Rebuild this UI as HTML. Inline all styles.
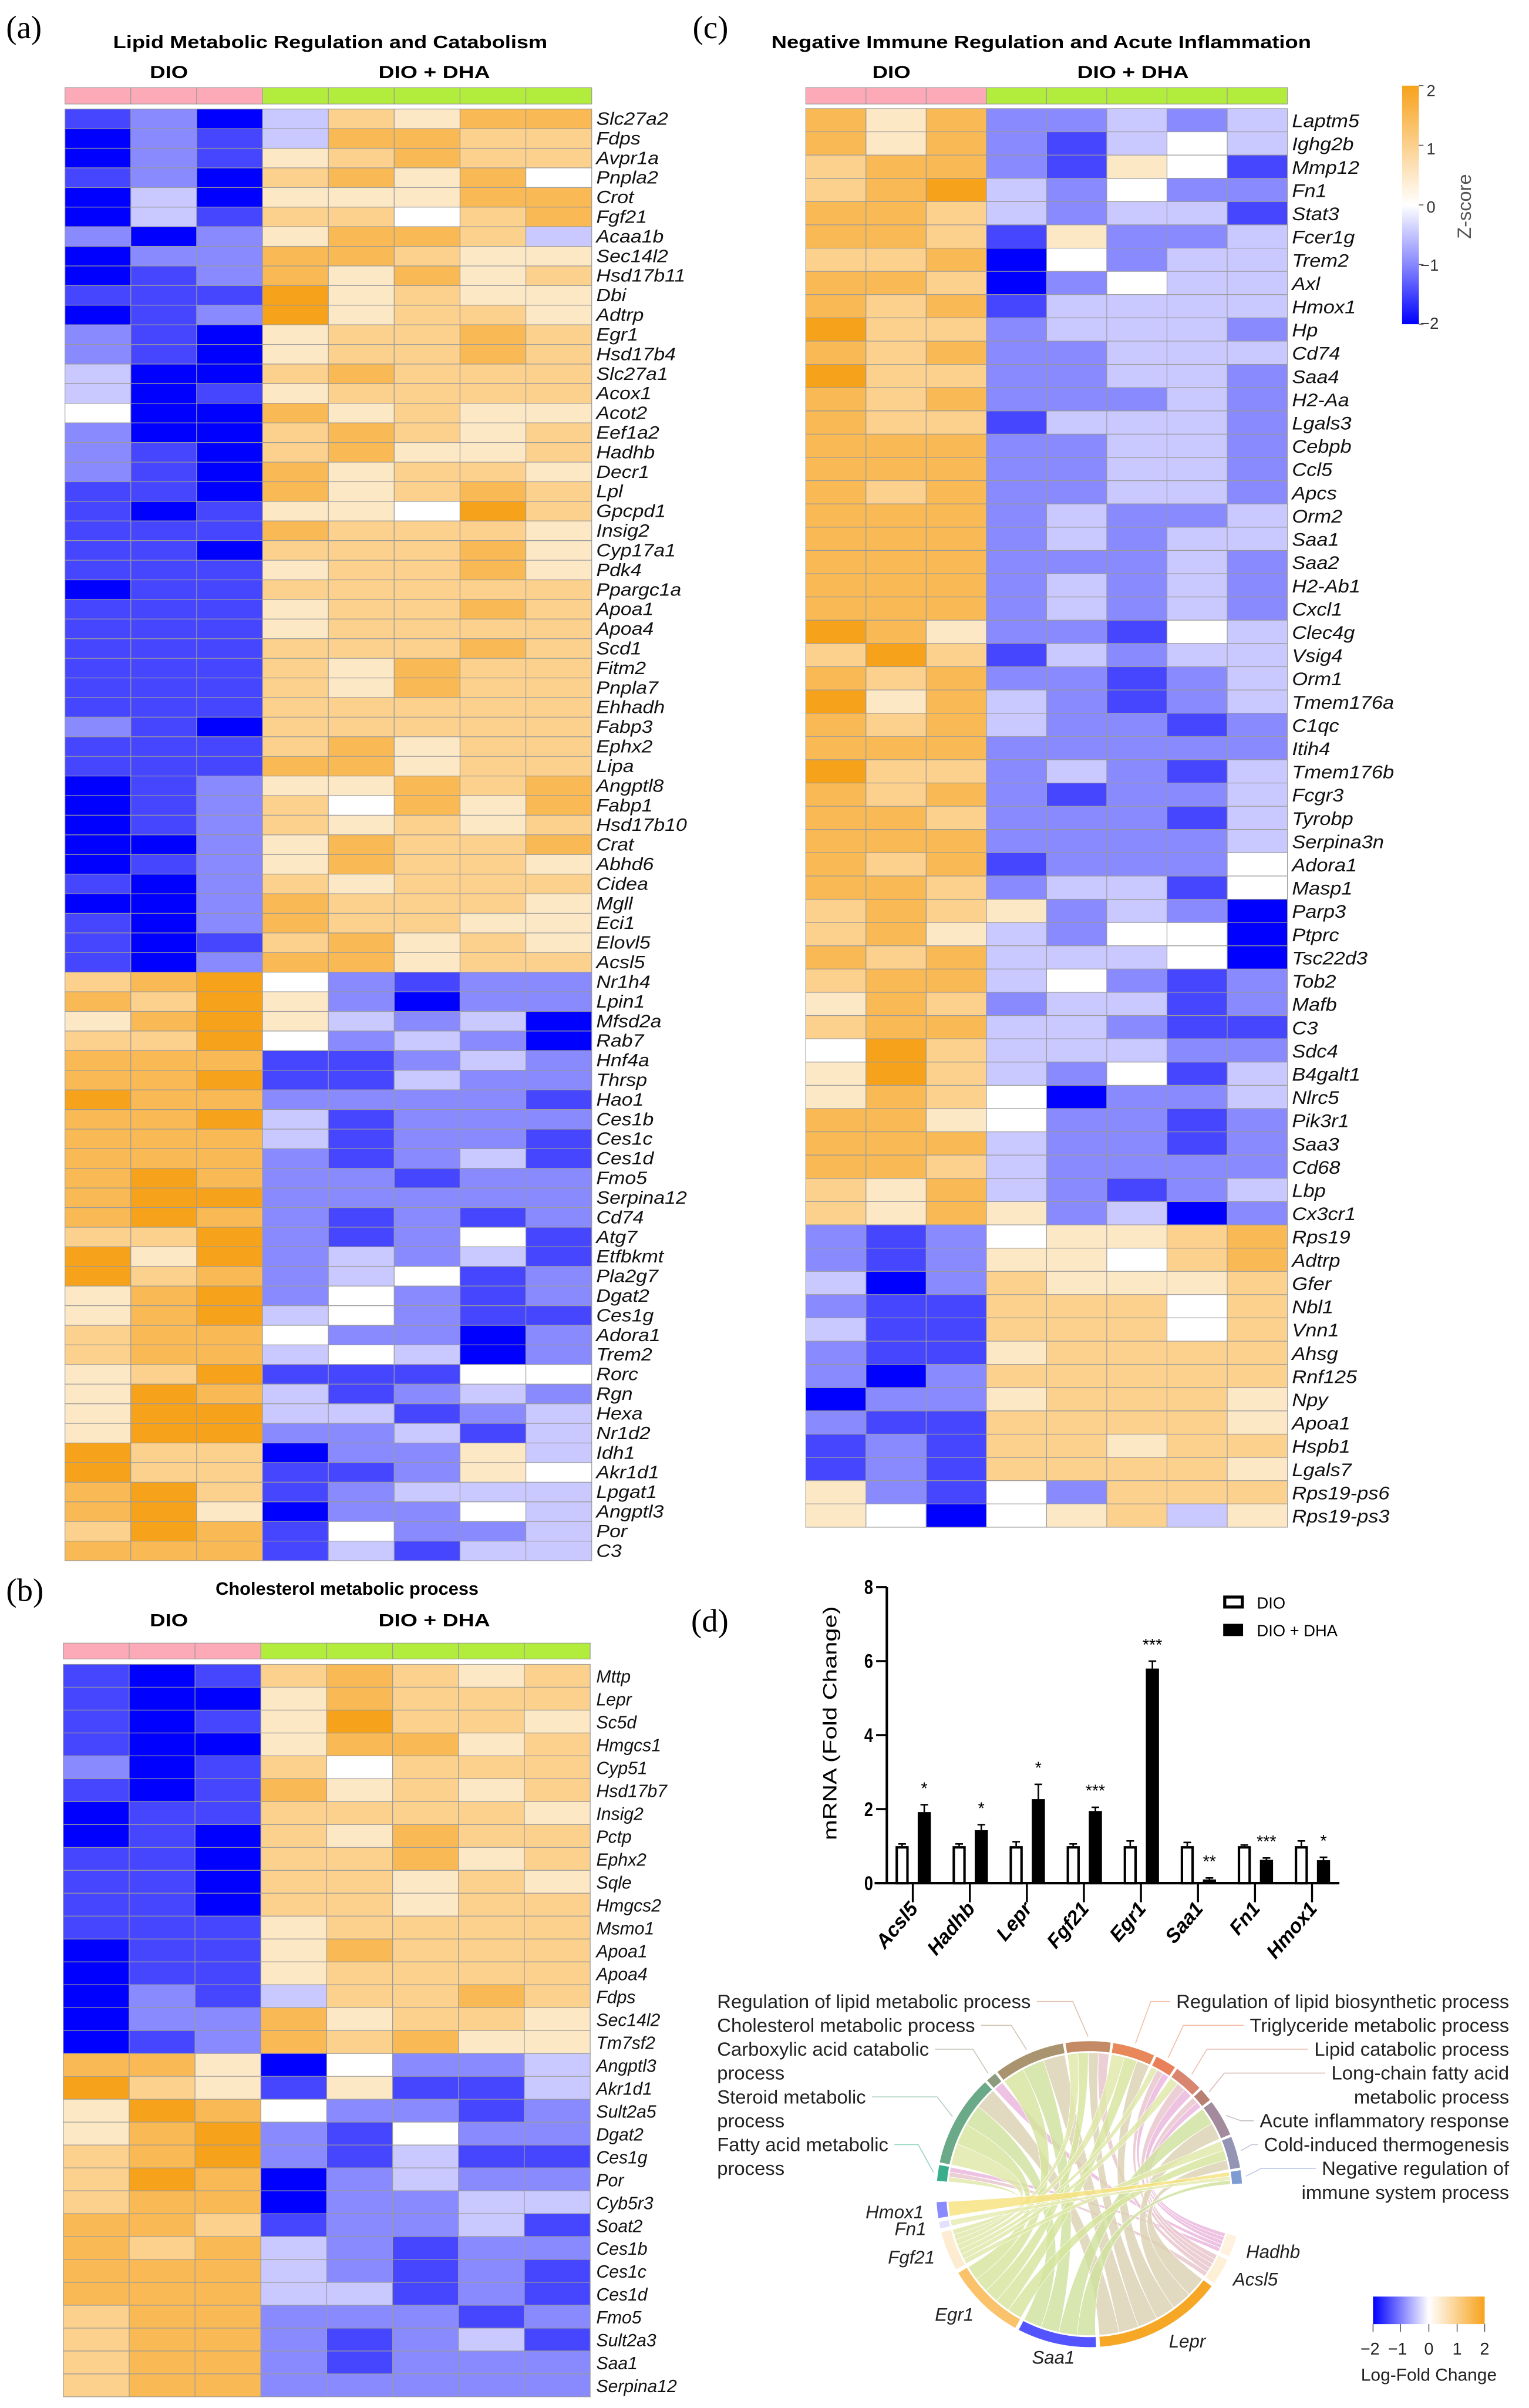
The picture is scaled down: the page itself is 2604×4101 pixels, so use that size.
<!DOCTYPE html>
<html><head><meta charset="utf-8">
<style>
html,body{margin:0;padding:0;background:#fff;}
svg{display:block;}
text{font-family:"Liberation Sans",Arial,sans-serif;}
</style></head>
<body>
<svg id="fig" xmlns="http://www.w3.org/2000/svg" width="2604" height="4101" viewBox="0 0 1000 1574.85">
<defs>
<linearGradient id="zgrad" x1="0" y1="0" x2="0" y2="1">
<stop offset="0" stop-color="#f7a21b"/><stop offset="0.25" stop-color="#fbd08d"/><stop offset="0.5" stop-color="#ffffff"/><stop offset="0.75" stop-color="#8888ff"/><stop offset="1" stop-color="#0000ff"/>
</linearGradient>
<linearGradient id="lfgrad" x1="0" y1="0" x2="1" y2="0">
<stop offset="0" stop-color="#0000ff"/><stop offset="0.5" stop-color="#ffffff"/><stop offset="1" stop-color="#f7a21b"/>
</linearGradient>
</defs>
<rect x="0" y="0" width="1000" height="1574.85" fill="#fff"/>

<text x="4" y="25" style="font-family:'Liberation Serif',serif" font-size="21">(a)</text>
<text x="453" y="25" style="font-family:'Liberation Serif',serif" font-size="21">(c)</text>
<text x="4" y="1047" style="font-family:'Liberation Serif',serif" font-size="21">(b)</text>
<text x="452" y="1067" style="font-family:'Liberation Serif',serif" font-size="21">(d)</text>

<text x="216" y="31.4" text-anchor="middle" font-weight="bold" font-size="11.8" textLength="284" lengthAdjust="spacingAndGlyphs">Lipid Metabolic Regulation and Catabolism</text>
<text x="681" y="31.4" text-anchor="middle" font-weight="bold" font-size="11.8" textLength="353" lengthAdjust="spacingAndGlyphs">Negative Immune Regulation and Acute Inflammation</text>
<text x="227" y="1043" text-anchor="middle" font-weight="bold" font-size="11.8" textLength="172" lengthAdjust="spacingAndGlyphs">Cholesterol metabolic process</text>

<text x="110.5" y="51" text-anchor="middle" font-weight="bold" font-size="11.5" textLength="25" lengthAdjust="spacingAndGlyphs">DIO</text>
<text x="284" y="51" text-anchor="middle" font-weight="bold" font-size="11.5" textLength="73" lengthAdjust="spacingAndGlyphs">DIO + DHA</text>
<text x="583" y="51" text-anchor="middle" font-weight="bold" font-size="11.5" textLength="25" lengthAdjust="spacingAndGlyphs">DIO</text>
<text x="741" y="51" text-anchor="middle" font-weight="bold" font-size="11.5" textLength="73" lengthAdjust="spacingAndGlyphs">DIO + DHA</text>
<text x="110.5" y="1063.5" text-anchor="middle" font-weight="bold" font-size="11.5" textLength="25" lengthAdjust="spacingAndGlyphs">DIO</text>
<text x="284" y="1063.5" text-anchor="middle" font-weight="bold" font-size="11.5" textLength="73" lengthAdjust="spacingAndGlyphs">DIO + DHA</text>

<g>
<rect x="917" y="56" width="11" height="156" fill="url(#zgrad)"/>
<g stroke="#555" stroke-width="0.6">
<line x1="928" y1="56" x2="931" y2="56"/><line x1="928" y1="95" x2="931" y2="95"/><line x1="928" y1="134" x2="931" y2="134"/><line x1="928" y1="173" x2="931" y2="173"/><line x1="928" y1="212" x2="931" y2="212"/>
</g>
<g font-size="10.5" fill="#333">
<text x="933" y="63">2</text><text x="933" y="101">1</text><text x="933" y="139">0</text><text x="929" y="177">−1</text><text x="929" y="215">−2</text>
</g>
<text transform="translate(962,135) rotate(-90)" text-anchor="middle" font-size="12.5" fill="#555">Z-score</text>
</g>

<g>
<rect x="801" y="1044.5" width="11.5" height="6.5" fill="#fff" stroke="#000" stroke-width="2"/>
<text x="822" y="1052" font-size="10.5">DIO</text>
<rect x="800" y="1062" width="13" height="8" fill="#000"/>
<text x="822" y="1070" font-size="10.5">DIO + DHA</text>
</g>

<g>
<rect x="898" y="1502" width="73" height="18" fill="url(#lfgrad)"/>
<g stroke="#555" stroke-width="0.6">
<line x1="898" y1="1520" x2="898" y2="1525"/><line x1="916" y1="1520" x2="916" y2="1525"/><line x1="934.5" y1="1520" x2="934.5" y2="1525"/><line x1="953" y1="1520" x2="953" y2="1525"/><line x1="971" y1="1520" x2="971" y2="1525"/>
</g>
<g font-size="11" fill="#222" text-anchor="middle">
<text x="896" y="1540">−2</text><text x="914" y="1540">−1</text><text x="934.5" y="1540">0</text><text x="953" y="1540">1</text><text x="971" y="1540">2</text>
</g>
<text x="934.5" y="1557" text-anchor="middle" font-size="11.5" fill="#222">Log-Fold Change</text>
</g>
</svg>

<script>
const svg = document.getElementById('fig');
const NS = 'http://www.w3.org/2000/svg';
function mk(tag, attrs, parent) {
  const e = document.createElementNS(NS, tag);
  for (const k in attrs) e.setAttribute(k, attrs[k]);
  (parent || svg).appendChild(e);
  return e;
}

const genesA = ["Slc27a2","Fdps","Avpr1a","Pnpla2","Crot","Fgf21","Acaa1b","Sec14l2","Hsd17b11","Dbi","Adtrp","Egr1","Hsd17b4","Slc27a1","Acox1","Acot2","Eef1a2","Hadhb","Decr1","Lpl","Gpcpd1","Insig2","Cyp17a1","Pdk4","Ppargc1a","Apoa1","Apoa4","Scd1","Fitm2","Pnpla7","Ehhadh","Fabp3","Ephx2","Lipa","Angptl8","Fabp1","Hsd17b10","Crat","Abhd6","Cidea","Mgll","Eci1","Elovl5","Acsl5","Nr1h4","Lpin1","Mfsd2a","Rab7","Hnf4a","Thrsp","Hao1","Ces1b","Ces1c","Ces1d","Fmo5","Serpina12","Cd74","Atg7","Etfbkmt","Pla2g7","Dgat2","Ces1g","Adora1","Trem2","Rorc","Rgn","Hexa","Nr1d2","Idh1","Akr1d1","Lpgat1","Angptl3","Por","C3"];
const zA = [
[-1.5,-1,-2,-0.5,1,0.5,1.5,1.5],[-2,-1,-1.5,-0.5,1.5,1.5,1,1],[-2,-1,-1.5,0.5,1,1.5,1,1],[-1.5,-1,-2,1,1.5,0.5,1.5,0],
[-2,-0.5,-2,0.5,0.5,0.5,1.5,1.5],[-2,-0.5,-1.5,1,1,0,1,1.5],[-1,-2,-1,0.5,1.5,1.5,1,-0.5],[-2,-1,-1,1.5,1.5,1,0.5,0.5],
[-2,-1.5,-1,1.5,0.5,1.5,0.5,1],[-1.5,-1.5,-1.5,2,0.5,1,0.5,0.5],[-2,-1.5,-1,2,0.5,1,1,0.5],[-1,-1.5,-2,0.5,1,1,1.5,1],
[-1,-1.5,-2,0.5,1,1,1.5,1],[-0.5,-2,-2,1,1.5,1,1,1],[-0.5,-2,-1.5,0.5,1,1,1,1],[0,-2,-2,1.5,0.5,1,0.5,0.5],
[-1,-2,-2,1,1.5,1,0.5,1],[-1,-1.5,-2,1,1.5,0.5,0.5,1],[-1,-1.5,-2,1.5,0.5,1,1,0.5],[-1.5,-1.5,-2,1.5,0.5,1,1.5,1],
[-1.5,-2,-1.5,0.5,0.5,0,2,1],[-1.5,-1.5,-1.5,1.5,1,1,1,0.5],[-1.5,-1.5,-2,1,1,1,1.5,0.5],[-1.5,-1.5,-1.5,0.5,1,1,1.5,0.5],
[-2,-1.5,-1.5,1,1,1,1,1],[-1.5,-1.5,-1.5,0.5,1,1,1.5,1],[-1.5,-1.5,-1.5,0.5,1,1,1,1],[-1.5,-1.5,-1.5,1,1,1,1.5,1],
[-1.5,-1.5,-1.5,1,0.5,1.5,1,1],[-1.5,-1.5,-1.5,1,0.5,1.5,1,1],[-1.5,-1.5,-1.5,1,1,1,1,1],[-1,-1.5,-2,1,1,1,1,1],
[-1.5,-1.5,-1.5,1,1.5,0.5,1,1],[-1.5,-1.5,-1.5,1.5,1.5,0.5,1,1],[-2,-1.5,-1,0.5,0.5,1.5,1,1.5],[-2,-1.5,-1,1,0,1.5,0.5,1.5],
[-2,-1.5,-1,1,0.5,1,0.5,1],[-2,-2,-1,0.5,1.5,1,1,1.5],[-2,-1.5,-1,0.5,1.5,1,1,0.5],[-1.5,-2,-1,1,0.5,1,1,1],
[-2,-2,-1,1.5,1,1,1,0.5],[-1.5,-2,-1,1.5,1,1,0.5,0.5],[-1.5,-2,-1.5,1,1.5,0.5,1,0.5],[-1.5,-2,-1,1.5,1.5,0.5,1,1],
[1,1.5,2,0,-1,-1.5,-1,-1],[1.5,1,2,0.5,-1,-2,-1,-1],[0.5,1.5,2,0.5,-0.5,-1,-0.5,-2],[1,1,2,0,-1,-0.5,-1,-2],
[1.5,1.5,1.5,-1.5,-1.5,-1,-0.5,-1],[1.5,1.5,2,-1.5,-1.5,-0.5,-1,-1],[2,1.5,1.5,-1,-1,-1,-1,-1.5],[1.5,1.5,2,-0.5,-1.5,-1,-1,-1],
[1.5,1.5,1.5,-0.5,-1.5,-1,-1,-1.5],[1.5,1.5,1.5,-1,-1.5,-1,-0.5,-1.5],[1.5,2,1.5,-1,-1,-1.5,-1,-1],[1.5,2,2,-1,-1,-1,-1,-1],
[1.5,2,1.5,-1,-1.5,-1,-1.5,-1],[1,1,2,-1,-1.5,-1,0,-1.5],[2,0.5,2,-1,-0.5,-1,-0.5,-1.5],[2,1,1.5,-1,-0.5,0,-1.5,-1],
[0.5,1.5,2,-1,0,-1,-1.5,-1],[0.5,1.5,2,-0.5,0,-1,-1.5,-1.5],[1,1.5,1.5,0,-1,-1,-2,-1],[1,1.5,1.5,-0.5,0,-0.5,-2,-1],
[0.5,1,2,-1.5,-1.5,-1.5,0,0],[0.5,2,1.5,-0.5,-1.5,-1,-0.5,-1],[0.5,2,2,-0.5,-0.5,-1.5,-1,-0.5],[0.5,2,2,-1,-1,-0.5,-1.5,-0.5],
[2,1,1,-2,-1,-1,0.5,-0.5],[2,1,1,-1.5,-1.5,-1,0.5,0],[1.5,2,1,-1.5,-1,-0.5,-0.5,-0.5],[1.5,2,0.5,-2,-1,-1,0,-0.5],
[1,2,1.5,-1.5,0,-1,-1,-0.5],[1.5,1.5,1.5,-1.5,-0.5,-1.5,-0.5,-0.5]
];
const genesC = ["Laptm5","Ighg2b","Mmp12","Fn1","Stat3","Fcer1g","Trem2","Axl","Hmox1","Hp","Cd74","Saa4","H2-Aa","Lgals3","Cebpb","Ccl5","Apcs","Orm2","Saa1","Saa2","H2-Ab1","Cxcl1","Clec4g","Vsig4","Orm1","Tmem176a","C1qc","Itih4","Tmem176b","Fcgr3","Tyrobp","Serpina3n","Adora1","Masp1","Parp3","Ptprc","Tsc22d3","Tob2","Mafb","C3","Sdc4","B4galt1","Nlrc5","Pik3r1","Saa3","Cd68","Lbp","Cx3cr1","Rps19","Adtrp","Gfer","Nbl1","Vnn1","Ahsg","Rnf125","Npy","Apoa1","Hspb1","Lgals7","Rps19-ps6","Rps19-ps3"];
const zC = [
[1.5,0.5,1.5,-1,-1,-0.5,-1,-0.5],[1.5,0.5,1.5,-1,-1.5,-0.5,0,-0.5],[1,1.5,1.5,-1,-1.5,0.5,0,-1.5],[1,1.5,2,-0.5,-1,0,-1,-1],
[1.5,1.5,1,-0.5,-1,-0.5,-0.5,-1.5],[1.5,1.5,1,-1.5,0.5,-1,-1,-0.5],[1,1,1.5,-2,0,-1,-0.5,-0.5],[1.5,1.5,1,-2,-1,0,-0.5,-0.5],
[1.5,1,1.5,-1.5,-0.5,-0.5,-0.5,-0.5],[2,1,1,-1,-0.5,-0.5,-0.5,-1],[1.5,1,1.5,-1,-1,-0.5,-0.5,-0.5],[2,1,1,-1,-1,-0.5,-0.5,-1],
[1.5,1,1.5,-1,-1,-1,-0.5,-1],[1.5,1,1,-1.5,-0.5,-0.5,-0.5,-1],[1.5,1.5,1.5,-1,-1,-0.5,-0.5,-1],[1.5,1.5,1.5,-1,-1,-0.5,-0.5,-1],
[1.5,1,1.5,-1,-1,-0.5,-0.5,-1],[1.5,1.5,1.5,-1,-0.5,-1,-1,-0.5],[1.5,1.5,1.5,-1,-0.5,-1,-0.5,-0.5],[1.5,1.5,1.5,-1,-1,-1,-0.5,-1],
[1.5,1.5,1.5,-1,-0.5,-1,-0.5,-1],[1.5,1.5,1.5,-1,-0.5,-1,-0.5,-1],[2,1.5,0.5,-1,-1,-1.5,0,-0.5],[1,2,1,-1.5,-0.5,-1,-0.5,-0.5],
[1.5,1,1.5,-1,-1,-1.5,-1,-0.5],[2,0.5,1.5,-0.5,-1,-1.5,-1,-0.5],[1.5,1,1.5,-0.5,-1,-1,-1.5,-1],[1.5,1.5,1.5,-1,-1,-1,-1,-1],
[2,1,1,-1,-0.5,-1,-1.5,-0.5],[1.5,1,1.5,-1,-1.5,-1,-1,-0.5],[1.5,1.5,1,-1,-1,-1,-1.5,-0.5],[1.5,1.5,1.5,-1,-1,-1,-1,-0.5],
[1.5,1,1.5,-1.5,-1,-1,-1,0],[1.5,1.5,1,-1,-0.5,-0.5,-1.5,0],[1,1.5,1,0.5,-1,-0.5,-1,-2],[1,1.5,0.5,-0.5,-1,0,0,-2],
[1.5,1,1.5,-0.5,-0.5,-0.5,0,-2],[1,1.5,1.5,-0.5,0,-1,-1.5,-1],[0.5,1.5,1,-1,-0.5,-0.5,-1.5,-1],[1,1.5,1.5,-0.5,-0.5,-1,-1.5,-1.5],
[0,2,1,-0.5,-0.5,-0.5,-1,-1],[0.5,2,1,-0.5,-1,0,-1.5,-0.5],[0.5,1.5,1,0,-2,-1,-1,-0.5],[1.5,1.5,0.5,0,-1,-1,-1.5,-1],
[1.5,1.5,1.5,-0.5,-1,-1,-1.5,-1],[1.5,1.5,1,-0.5,-1,-1,-1,-1],[1,0.5,1.5,-0.5,-1,-1.5,-1,-0.5],[1,0.5,1.5,0.5,-1,-0.5,-2,-1],
[-1,-1.5,-1,0,0.5,0.5,1,1.5],[-1,-1.5,-1,0.5,0.5,0,1,1.5],[-0.5,-2,-1,1,0.5,0.5,0.5,1],[-1,-1.5,-1.5,1,1,1,0,1],
[-0.5,-1.5,-1.5,1,1,1,0,1],[-1,-1.5,-1.5,0.5,1,1,1,1],[-1,-2,-1,1,1,1,1,1],[-2,-1,-1,0.5,1,1,1,0.5],
[-1,-1.5,-1.5,1,1,1,1,0.5],[-1.5,-1,-1.5,1,1,0.5,1,1],[-1.5,-1,-1.5,1,1,1,1,0.5],[0.5,-1,-1.5,0,-1,1,1,1],
[0.5,0,-2,0,0.5,1,-0.5,0.5]
];
const genesB = ["Mttp","Lepr","Sc5d","Hmgcs1","Cyp51","Hsd17b7","Insig2","Pctp","Ephx2","Sqle","Hmgcs2","Msmo1","Apoa1","Apoa4","Fdps","Sec14l2","Tm7sf2","Angptl3","Akr1d1","Sult2a5","Dgat2","Ces1g","Por","Cyb5r3","Soat2","Ces1b","Ces1c","Ces1d","Fmo5","Sult2a3","Saa1","Serpina12"];
const zB = [
[-1.5,-2,-1.5,1,1.5,1,0.5,1],[-1.5,-2,-2,0.5,1.5,1,1,1],[-1.5,-2,-1.5,0.5,2,1,1,0.5],[-1.5,-2,-2,0.5,1.5,1.5,0.5,1],
[-1,-2,-1.5,1,0,1,1,1],[-1.5,-2,-1.5,1.5,0.5,1,0.5,1],[-2,-1.5,-1.5,1,1,1,1,0.5],[-2,-1.5,-2,1,0.5,1.5,1,1],
[-1.5,-1.5,-2,1,1,1.5,0.5,1],[-1.5,-1.5,-2,1,1,0.5,1,0.5],[-1.5,-1.5,-2,1,1,0.5,1,1],[-1.5,-1.5,-1.5,0.5,1,1,1,1],
[-2,-1.5,-1.5,0.5,1.5,1,1,1],[-2,-1.5,-1.5,0.5,1,1,1,1],[-2,-1,-1.5,-0.5,1,1,1.5,1],[-2,-1,-1,1.5,0.5,1,1,0.5],
[-2,-1.5,-1,1.5,1,1.5,0.5,0.5],[1.5,1.5,0.5,-2,0,-1,-1,-0.5],[2,1,0.5,-1.5,0.5,-1.5,-1.5,-0.5],[0.5,2,1.5,0,-1,-1,-1.5,-1],
[0.5,1.5,2,-1,-1.5,0,-1,-1],[1,1.5,2,-1,-1.5,-0.5,-1.5,-1.5],[1,2,1.5,-2,-1,-0.5,-1,-1],[1,1.5,1.5,-2,-1,-1,-0.5,-0.5],
[1.5,1.5,1,-1.5,-1,-1,-0.5,-1.5],[1.5,1,1.5,-0.5,-1,-1.5,-1,-1],[1.5,1.5,1.5,-0.5,-1,-1.5,-1,-1.5],[1.5,1.5,1.5,-0.5,-0.5,-1.5,-1,-1.5],
[1,1.5,1.5,-1,-1,-1,-1.5,-1],[1,1.5,1.5,-1,-1.5,-1,-0.5,-1.5],[1,1.5,1.5,-1,-1.5,-1,-1,-1],[1,1.5,1.5,-1,-1,-1,-1,-1]
];
const sampleGroups = ["DIO","DIO","DIO","DHA","DHA","DHA","DHA","DHA"];

const barGenes = ["Acsl5","Hadhb","Lepr","Fgf21","Egr1","Saa1","Fn1","Hmox1"];
const dioMean = [1,1,1,1,1,1,1,1];
const dioErr = [0.06,0.06,0.12,0.06,0.14,0.10,0.03,0.14];
const dhaMean = [1.92,1.43,2.27,1.95,5.8,0.10,0.63,0.62];
const dhaErr = [0.20,0.15,0.40,0.10,0.20,0.04,0.05,0.08];
const sigLabels = ["*","*","*","***","***","**","***","*"];
const yTicks = [0,2,4,6,8];

const termNames = ["Fatty acid metabolic process","Steroid metabolic process","Carboxylic acid catabolic process","Cholesterol metabolic process","Regulation of lipid metabolic process","Regulation of lipid biosynthetic process","Triglyceride metabolic process","Lipid catabolic process","Long-chain fatty acid metabolic process","Acute inflammatory response","Cold-induced thermogenesis","Negative regulation of immune system process"];
const termSize = [6,35,4,27,17,16,8,11,5,14,12,5];
const termColors = ["#3aae8a","#6aaa88","#8c9c7c","#aa9470","#c48a66","#e8875a","#e8805a","#d98670","#b87f72","#a38a9c","#9494b4","#7f9cd2"];
const chordGenes = ["Hadhb","Acsl5","Lepr","Saa1","Egr1","Fgf21","Fn1","Hmox1"];
const chordGeneSize = [8,10,49,30,30,15,2.5,6];
const chordGeneLFC = [0.3,0.35,1.9,-1.4,1.3,0.4,-0.3,-1.0];
const ribbonColors = ["#eab4dc","#e8c4cc","#dcd2b2","#cfe09e","#d6e49c","#dfe8a8","#e6eab0","#f6e27c"];
const links = [
[0,0],[0,2],[0,7],[0,8],[0,6],
[1,0],[1,7],[1,8],[1,6],[1,4],
[2,1],[2,3],[2,4],[2,5],[2,9],[2,10],
[3,1],[3,3],[3,9],[3,11],
[4,1],[4,3],[4,4],[4,5],[4,10],
[5,0],[5,1],[5,4],[5,5],[5,6],[5,7],[5,10],
[6,11],[7,11]
];

function mix(a, b, t) {
  return 'rgb(' + a.map((v, i) => Math.round(v + (b[i] - v) * t)).join(',') + ')';
}
function zColor(z) {
  z = Math.max(-2, Math.min(2, z));
  if (z < 0) return mix([255,255,255], [0,0,255], Math.pow(-z / 2, 1.12));
  return mix([255,255,255], [247,162,27], z / 2);
}

function drawHeat(genes, vals, cfg) {
  const g = mk('g', {});
  
  
  const cw = (cfg.x1 - cfg.x0) / 8;
  sampleGroups.forEach((grp, j) => {
    const r = mk('rect', {x: cfg.x0 + j * cw, y: cfg.ay0, width: cw, height: cfg.ay1 - cfg.ay0,
      fill: grp === 'DIO' ? '#fcaab8' : '#b2ec3c', stroke: '#9a9a9a', 'stroke-width': 0.45}, g);
    
    
  });
  vals.forEach((row, i) => {
    row.forEach((z, j) => {
      const r = mk('rect', {x: cfg.x0 + j * cw, y: cfg.y0 + i * cfg.ch, width: cw, height: cfg.ch,
        fill: zColor(z), stroke: '#9a9a9a', 'stroke-width': 0.45}, g);
      
      
    });
    const t = mk('text', {transform: 'translate(' + cfg.lx + ',' + (cfg.y0 + i * cfg.ch + cfg.ch * 0.8) + ') scale(' + cfg.sx + ',1)',
      'font-size': cfg.fs, 'font-style': 'italic', fill: '#111'}, g);
    t.textContent = genes[i];
    
    
  });
}
drawHeat(genesA, zA, {name: 'heatmap-a', x0: 42.5, x1: 387, ay0: 57.3, ay1: 68, y0: 71.3, ch: 12.83, lx: 390, fs: 11.6, sx: 1.12});
drawHeat(genesC, zC, {name: 'heatmap-c', x0: 527, x1: 842, ay0: 57.3, ay1: 68, y0: 71, ch: 15.21, lx: 845, fs: 12, sx: 1.1});
drawHeat(genesB, zB, {name: 'heatmap-b', x0: 41.4, x1: 386, ay0: 1074.6, ay1: 1085, y0: 1088.5, ch: 14.97, lx: 390, fs: 11.8, sx: 0.98});

const bx0 = 597, bstep = 37.3, by0 = 1231.6, bk = 24.2;
function xs(i) { return bx0 + i * bstep; }
function ys(v) { return by0 - v * bk; }
const bc = mk('g', {});


const yAx = mk('line', {x1: 580, y1: ys(8), x2: 580, y2: by0, stroke: '#000', 'stroke-width': 1.6}, bc);


const xAx = mk('line', {x1: 572, y1: by0, x2: 876, y2: by0, stroke: '#000', 'stroke-width': 1.6}, bc);


yTicks.forEach(v => {
  const tk = mk('line', {x1: 573, y1: ys(v), x2: 580, y2: ys(v), stroke: '#000', 'stroke-width': 1.4}, bc);
  
  
  const tl = mk('text', {transform: 'translate(571,' + (ys(v) + 4.5) + ') scale(0.8,1)', 'text-anchor': 'end', 'font-size': 13, 'font-weight': 'bold'}, bc);
  tl.textContent = v;
  
  
});
const yl = mk('text', {transform: 'translate(547,1127) rotate(-90)', 'text-anchor': 'middle', 'font-size': 12.5, textLength: 153, lengthAdjust: 'spacingAndGlyphs'}, bc);
yl.textContent = 'mRNA (Fold Change)';


const bw = 8.6;
barGenes.forEach((gname, i) => {
  const cx = xs(i);
  const xd = cx - 7, xh = cx + 7.5;
  const eb1 = mk('line', {x1: xd, y1: ys(dioMean[i]), x2: xd, y2: ys(dioMean[i] + dioErr[i]), stroke: '#000', 'stroke-width': 1}, bc);
  
  
  const ec1 = mk('line', {x1: xd - 2.5, y1: ys(dioMean[i] + dioErr[i]), x2: xd + 2.5, y2: ys(dioMean[i] + dioErr[i]), stroke: '#000', 'stroke-width': 1}, bc);
  
  
  const b1 = mk('rect', {x: xd - bw / 2 + 0.8, y: ys(dioMean[i]) + 0.8, width: bw - 1.6, height: by0 - ys(dioMean[i]) - 0.8, fill: '#fff', stroke: '#000', 'stroke-width': 1.6}, bc);
  
  
  const eb2 = mk('line', {x1: xh, y1: ys(dhaMean[i]), x2: xh, y2: ys(dhaMean[i] + dhaErr[i]), stroke: '#000', 'stroke-width': 1}, bc);
  
  
  const ec2 = mk('line', {x1: xh - 2.5, y1: ys(dhaMean[i] + dhaErr[i]), x2: xh + 2.5, y2: ys(dhaMean[i] + dhaErr[i]), stroke: '#000', 'stroke-width': 1}, bc);
  
  
  const b2 = mk('rect', {x: xh - bw / 2, y: ys(dhaMean[i]), width: bw, height: by0 - ys(dhaMean[i]), fill: '#000'}, bc);
  
  
  const st = mk('text', {x: xh, y: ys(dhaMean[i] + dhaErr[i]) - 7, 'text-anchor': 'middle', 'font-size': 11}, bc);
  st.textContent = sigLabels[i];
  
  
  const xt = mk('line', {x1: cx, y1: by0, x2: cx, y2: by0 + 12.5, stroke: '#000', 'stroke-width': 1.3}, bc);
  
  
  const xl = mk('text', {transform: 'translate(' + (cx + 4) + ',' + (by0 + 17) + ') rotate(-50)', 'text-anchor': 'end', 'font-size': 13, 'font-weight': 'bold', 'font-style': 'italic'}, bc);
  xl.textContent = gname;
  
  
});

const CX = 712.5, CY = 1435, RIN = 92.5, RRING = 96.8;
function P(th, r) { const a = th * Math.PI / 180; return [CX + r * Math.sin(a), CY - r * Math.cos(a)]; }
const termArcs = [];
let ang = -85;
termSize.forEach(s => { termArcs.push([ang, ang + s]); ang += s + 1; });
const geneArcs = [];
ang = 106;
chordGeneSize.forEach(s => { geneArcs.push([ang, ang + s]); ang += s + 1.5; });
function mid(a) { return (a[0] + a[1]) / 2; }

const ch = mk('g', {});


const geneSlots = {}, termSlots = {};
chordGenes.forEach((_, gi) => {
  const L = links.map((l, k) => [l, k]).filter(x => x[0][0] === gi).sort((a, b) => mid(termArcs[b[0][1]]) - mid(termArcs[a[0][1]]));
  const [s, e] = geneArcs[gi];
  L.forEach((x, k) => { geneSlots[x[1]] = [s + (e - s) * k / L.length, s + (e - s) * (k + 1) / L.length]; });
});
termNames.forEach((_, ti) => {
  const L = links.map((l, k) => [l, k]).filter(x => x[0][1] === ti).sort((a, b) => mid(geneArcs[b[0][0]]) - mid(geneArcs[a[0][0]]));
  const [s, e] = termArcs[ti];
  L.forEach((x, k) => { termSlots[x[1]] = [s + (e - s) * k / L.length, s + (e - s) * (k + 1) / L.length]; });
});
function f(p) { return p[0].toFixed(2) + ' ' + p[1].toFixed(2); }
links.forEach((l, k) => {
  const gs = geneSlots[k], ts = termSlots[k];
  const d = 'M' + f(P(gs[0], RIN)) + ' A' + RIN + ' ' + RIN + ' 0 0 1 ' + f(P(gs[1], RIN)) +
    ' Q' + CX + ' ' + CY + ' ' + f(P(ts[0], RIN)) + ' A' + RIN + ' ' + RIN + ' 0 0 1 ' + f(P(ts[1], RIN)) +
    ' Q' + CX + ' ' + CY + ' ' + f(P(gs[0], RIN)) + ' Z';
  const p = mk('path', {d: d, fill: ribbonColors[l[0]], 'fill-opacity': 0.82, stroke: '#fff', 'stroke-width': 0.3}, ch);
  
  
});
function ringArc(a, color, nm) {
  const large = (a[1] - a[0]) > 180 ? 1 : 0;
  const p = mk('path', {d: 'M' + f(P(a[0], RRING)) + ' A' + RRING + ' ' + RRING + ' 0 ' + large + ' 1 ' + f(P(a[1], RRING)), fill: 'none', stroke: color, 'stroke-width': 6.5}, ch);
  
  
}
termArcs.forEach((a, i) => ringArc(a, termColors[i], 'term-arc'));
geneArcs.forEach((a, i) => ringArc(a, zColor(chordGeneLFC[i]), 'gene-arc'));

chordGenes.forEach((gname, i) => {
  const th = mid(geneArcs[i]);
  const p = P(th, 109);
  let anchor = th < 180 ? 'start' : 'end';
  if (Math.abs(th - 190) < 12) anchor = 'middle';
  const t = mk('text', {x: p[0], y: p[1] + 4.5, 'text-anchor': anchor, 'font-size': 12, 'font-style': 'italic', fill: '#222'}, ch);
  t.textContent = gname;
  
  
});

const leftLabels = [[4, ["Regulation of lipid metabolic process"]], [3, ["Cholesterol metabolic process"]], [2, ["Carboxylic acid catabolic", "process"]], [1, ["Steroid metabolic", "process"]], [0, ["Fatty acid metabolic", "process"]]];
const rightLabels = [[5, ["Regulation of lipid biosynthetic process"]], [6, ["Triglyceride metabolic process"]], [7, ["Lipid catabolic process"]], [8, ["Long-chain fatty acid", "metabolic process"]], [9, ["Acute inflammatory response"]], [10, ["Cold-induced thermogenesis"]], [11, ["Negative regulation of", "immune system process"]]];
function placeLabels(list, right) {
  let y = 1309;
  list.forEach(([ti, lines]) => {
    let firstW = 0;
    const y1 = y;
    lines.forEach((ln, k) => {
      const t = mk('text', {x: right ? 987 : 469, y: y + 4.3, 'text-anchor': right ? 'end' : 'start', 'font-size': 12.6, fill: '#222'}, ch);
      t.textContent = ln;
      
      
      if (k === 0) { try { firstW = t.getComputedTextLength(); } catch (e) { firstW = ln.length * 6.3; } }
      y += 15.6;
    });
    const ly = y1;
    const lx = right ? 987 - firstW - 4 : 469 + firstW + 4;
    const ap = P(mid(termArcs[ti]), 103);
    const pl = mk('polyline', {points: lx.toFixed(1) + ',' + ly + ' ' + (right ? Math.min(lx - 4, ap[0] + 10) : Math.max(lx + 4, ap[0] - 10)).toFixed(1) + ',' + ly + ' ' + ap[0].toFixed(1) + ',' + ap[1].toFixed(1),
      fill: 'none', stroke: termColors[ti], 'stroke-opacity': 0.55, 'stroke-width': 0.6}, ch);
    
    
  });
}
placeLabels(leftLabels, false);
placeLabels(rightLabels, true);
</script>
</body></html>
